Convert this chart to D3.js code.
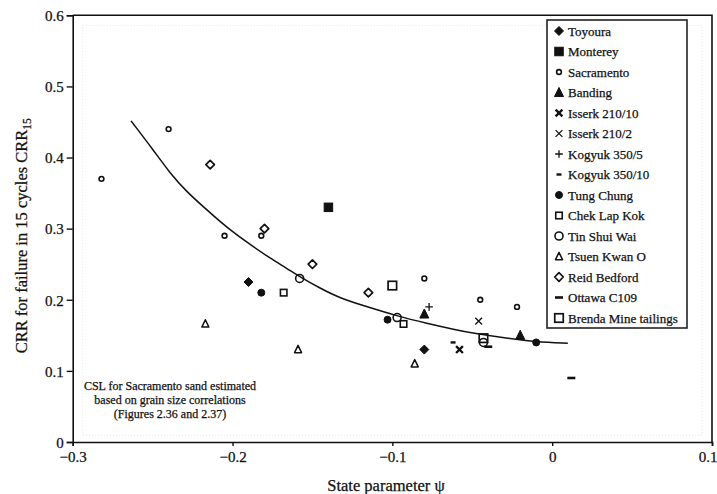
<!DOCTYPE html>
<html>
<head>
<meta charset="utf-8">
<script src="https://cdn.jsdelivr.net/npm/d3@7"></script>
<style>
  body { margin: 0; background: #fff; }
  svg { display: block; background: #fff; }
  text { font-family: "Liberation Serif", "Times New Roman", serif; fill: #111; stroke: #111; stroke-width: 0.25px; }
</style>
</head>
<body>
<svg id="chart" width="717" height="494"></svg>
<script>
// Axis ticks
const xTicks = [-0.3, -0.2, -0.1, 0, 0.1];
const yTicks = [0, 0.1, 0.2, 0.3, 0.4, 0.5, 0.6];

// Test results: [state parameter psi, CRR15]
const toyoura      = [[-0.19, 0.225], [-0.08, 0.13]];
const monterey     = [[-0.14, 0.33]];
const sacramento   = [[-0.282, 0.37], [-0.24, 0.44], [-0.205, 0.29], [-0.182, 0.29], [-0.08, 0.23], [-0.045, 0.20], [-0.022, 0.19]];
const banding      = [[-0.08, 0.18], [-0.02, 0.15]];
const isserk210_10 = [[-0.058, 0.13]];
const isserk210_2  = [[-0.046, 0.17]];
const kogyuk350_5  = [[-0.077, 0.19]];
const kogyuk350_10 = [[-0.062, 0.14]];
const tungChung    = [[-0.182, 0.21], [-0.103, 0.172], [-0.01, 0.14]];
const chekLapKok   = [[-0.168, 0.21], [-0.093, 0.166]];
const tinShuiWai   = [[-0.158, 0.23], [-0.097, 0.175], [-0.043, 0.14]];
const tsuenKwanO   = [[-0.217, 0.166], [-0.159, 0.13], [-0.086, 0.11]];
const reidBedford  = [[-0.214, 0.39], [-0.18, 0.30], [-0.15, 0.25], [-0.115, 0.21]];
const ottawaC109   = [[-0.04, 0.134], [0.012, 0.09]];
const brendaMine   = [[-0.1, 0.22], [-0.043, 0.146]];

// Trend curve through the data
const trendPsi = [-0.2635, -0.2496, -0.2391, -0.2287, -0.2183, -0.2078, -0.1974, -0.1870, -0.1765, -0.1661, -0.1578, -0.1452, -0.1327, -0.1160, -0.0972, -0.0785, -0.0597, -0.0493, -0.0284, -0.0101, 0.0098];
const trendCrr = [0.4515, 0.4107, 0.3779, 0.3520, 0.3309, 0.3098, 0.2911, 0.2747, 0.2584, 0.2443, 0.2321, 0.2162, 0.2021, 0.1903, 0.1772, 0.1669, 0.1575, 0.1529, 0.1458, 0.1406, 0.1388];

const noteLines = ["CSL for Sacramento sand estimated", "based on grain size correlations", "(Figures 2.36 and 2.37)"];

// Marker drawers: each appends a glyph into group g at (0,0)
const ink = "#111";
function diamond(g, h, filled) {
  g.append("path").attr("d", `M0,${-h}L${h},0L0,${h}L${-h},0Z`)
    .attr("fill", filled ? ink : "none").attr("stroke", ink)
    .attr("stroke-width", filled ? 1 : 1.7).attr("stroke-linejoin", "round");
}
function square(g, s, filled, sw) {
  g.append("rect").attr("x", -s / 2).attr("y", -s / 2).attr("width", s).attr("height", s)
    .attr("fill", filled ? ink : "none").attr("stroke", ink).attr("stroke-width", sw || 1);
}
function circle(g, r, filled, sw) {
  g.append("circle").attr("r", r).attr("fill", filled ? ink : "none")
    .attr("stroke", ink).attr("stroke-width", sw || 1);
}
function triangle(g, w, filled, sw) {
  const h = w * 0.9;
  g.append("path").attr("d", `M0,${-h / 2 - 1}L${w / 2},${h / 2}L${-w / 2},${h / 2}Z`)
    .attr("fill", filled ? ink : "none").attr("stroke", ink)
    .attr("stroke-width", sw || 1).attr("stroke-linejoin", "round");
}
function cross(g, h, sw) {
  g.append("path").attr("d", `M${-h},${-h}L${h},${h}M${-h},${h}L${h},${-h}`)
    .attr("stroke", ink).attr("stroke-width", sw);
}
function plus(g, h, sw) {
  g.append("path").attr("d", `M${-h},0L${h},0M0,${-h}L0,${h}`)
    .attr("stroke", ink).attr("stroke-width", sw);
}
function dash(g, w, sw) {
  g.append("path").attr("d", `M${-w / 2},0L${w / 2},0`)
    .attr("stroke", ink).attr("stroke-width", sw);
}

const seriesList = [
  { name: "Toyoura",              data: toyoura,      draw: g => diamond(g, 4.5, true) },
  { name: "Monterey",             data: monterey,     draw: g => square(g, 8.5, true) },
  { name: "Sacramento",           data: sacramento,   draw: g => circle(g, 2.4, false, 1.6) },
  { name: "Banding",              data: banding,      draw: g => triangle(g, 9, true) },
  { name: "Isserk 210/10",        data: isserk210_10, draw: g => cross(g, 3.4, 2.3) },
  { name: "Isserk 210/2",         data: isserk210_2,  draw: g => cross(g, 3.4, 1.3) },
  { name: "Kogyuk 350/5",         data: kogyuk350_5,  draw: g => plus(g, 3.8, 1.3) },
  { name: "Kogyuk 350/10",        data: kogyuk350_10, draw: g => dash(g, 5, 2.4) },
  { name: "Tung Chung",           data: tungChung,    draw: g => circle(g, 3.5, true) },
  { name: "Chek Lap Kok",         data: chekLapKok,   draw: g => square(g, 6.5, false, 1.6) },
  { name: "Tin Shui Wai",         data: tinShuiWai,   draw: g => circle(g, 4, false, 1.6) },
  { name: "Tsuen Kwan O",         data: tsuenKwanO,   draw: g => triangle(g, 7, false, 1.5) },
  { name: "Reid Bedford",         data: reidBedford,  draw: g => diamond(g, 4.3, false) },
  { name: "Ottawa C109",          data: ottawaC109,   draw: g => dash(g, 8, 2.6) },
  { name: "Brenda Mine tailings", data: brendaMine,   draw: g => square(g, 8.5, false, 1.7) }
];

const svg = d3.select("#chart");
const margin = { left: 72.7, right: 717 - 712, top: 15.3, bottom: 494 - 442 };
const x = d3.scaleLinear().domain([-0.3, 0.1]).range([margin.left, 717 - margin.right]);
const y = d3.scaleLinear().domain([0, 0.6]).range([494 - margin.bottom, margin.top]);

// Faint inner frame
svg.append("rect")
  .attr("x", x(-0.3) + 10).attr("y", y(0.6) + 10)
  .attr("width", x(0.1) - x(-0.3) - 20).attr("height", y(0) - y(0.6) - 17)
  .attr("fill", "none").attr("stroke", "#e4e4e4").attr("stroke-width", 1)
  .attr("stroke-dasharray", "1,2");

// Axes
const fmt = d => d === 0 ? "0" : d3.format(".1f")(d).replace("-", "\u2212");
const xAxis = svg.append("g").attr("transform", `translate(0,${y(0)})`)
  .call(d3.axisBottom(x).tickValues(xTicks).tickSize(4).tickPadding(5).tickFormat(fmt));
const yAxis = svg.append("g").attr("transform", `translate(${x(-0.3)},0)`)
  .call(d3.axisLeft(y).tickValues(yTicks).tickSize(6).tickPadding(3).tickFormat(fmt));
[xAxis, yAxis].forEach(a => {
  a.select(".domain").attr("stroke", ink).attr("stroke-width", 1.6);
  a.selectAll(".tick line").attr("stroke", ink).attr("stroke-width", 1.4);
  a.selectAll(".tick text").attr("fill", ink).style("font-size", "15px")
    .style("font-family", "'Liberation Serif', serif");
});
yAxis.selectAll(".tick text").attr("dy", "0.35em");
// keep the last x label inside the page
xAxis.selectAll(".tick text").filter(d => d === 0.1).attr("text-anchor", "end").attr("dx", "5");

// Top and right frame
svg.append("path")
  .attr("d", `M${x(-0.3)},${y(0.6)}H${x(0.1)}V${y(0)}`)
  .attr("fill", "none").attr("stroke", ink).attr("stroke-width", 1.6);

// Axis titles
svg.append("text").attr("x", 386).attr("y", 491)
  .attr("text-anchor", "middle").style("font-size", "16.5px").text("State parameter \u03c8");
const yt = svg.append("text").attr("transform", `translate(27,${y(0.29)}) rotate(-90)`)
  .attr("text-anchor", "middle").style("font-size", "16.5px");
yt.append("tspan").text("CRR for failure in 15 cycles CRR");
yt.append("tspan").attr("dy", "4").style("font-size", "11.5px").text("15");

// Trend curve
const trend = trendPsi.map((p, i) => [p, trendCrr[i]]);
svg.append("path").datum(trend)
  .attr("d", d3.line().x(d => x(d[0])).y(d => y(d[1])).curve(d3.curveBasis))
  .attr("fill", "none").attr("stroke", ink).attr("stroke-width", 1.5);

// Data markers
seriesList.forEach(s => {
  s.data.forEach(d => {
    const g = svg.append("g").attr("transform", `translate(${x(d[0])},${y(d[1])})`);
    s.draw(g);
  });
});

// Note about the critical state line
svg.append("g").selectAll("text").data(noteLines).join("text")
  .attr("x", 170).attr("y", (d, i) => 390 + i * 14)
  .attr("text-anchor", "middle").style("font-size", "12px").text(d => d);

// Legend
const lg = svg.append("g").attr("transform", "translate(547,20)");
lg.append("rect").attr("width", 140).attr("height", 308)
  .attr("fill", "#fff").attr("stroke", "#222").attr("stroke-width", 1.6);
seriesList.forEach((s, i) => {
  const row = lg.append("g").attr("transform", `translate(12,${11 + i * 20.5})`);
  s.draw(row);
  row.append("text").attr("x", 9).attr("dy", "0.35em").style("font-size", "13px").text(s.name);
});
</script>
</body>
</html>
